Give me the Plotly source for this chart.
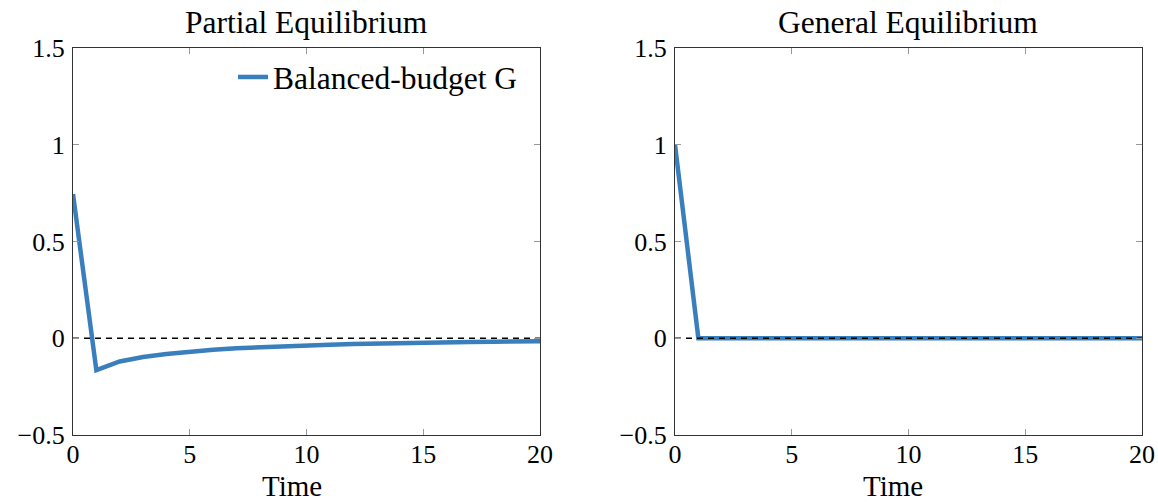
import plotly.graph_objects as go
from plotly.subplots import make_subplots

time = list(range(21))
pe_values = [0.745, -0.165, -0.12, -0.097, -0.081, -0.069, -0.059, -0.052, -0.046, -0.041,
             -0.037, -0.033, -0.030, -0.027, -0.025, -0.023, -0.021, -0.019, -0.018, -0.016, -0.015]
ge_values = [1.0] + [0.0] * 20
zero_line = [0.0] * 21
titles = ["Partial Equilibrium", "General Equilibrium"]
x_title = "Time"
series_name = "Balanced-budget G"
x_ticks = [0, 5, 10, 15, 20]
y_ticks = [-0.5, 0, 0.5, 1, 1.5]
y_tick_text = ["\u22120.5", "0", "0.5", "1", "1.5"]

FONT = "Liberation Serif"
BLUE = "#3a7fbd"
FS_TICK = 26
FS_TEXT = 31.5
FS_XT = 29

W, H = 1158, 502
ML, MR, MT, MB = 73, 16, 48, 67
PW = W - ML - MR
PH = H - MT - MB

fig = make_subplots(rows=1, cols=2)
dom1 = [0, (540 - ML) / PW]
dom2 = [(675 - ML) / PW, 1]

fig.add_trace(go.Scatter(x=time, y=pe_values, mode="lines", name=series_name,
                         line=dict(color=BLUE, width=4.5), showlegend=True), row=1, col=1)
fig.add_trace(go.Scatter(x=time, y=zero_line, mode="lines", line=dict(color="black", width=1.6, dash="6px,5px"),
                         showlegend=False, hoverinfo="skip"), row=1, col=1)
fig.add_trace(go.Scatter(x=time, y=ge_values, mode="lines", name=series_name,
                         line=dict(color=BLUE, width=4.5), showlegend=False), row=1, col=2)
fig.add_trace(go.Scatter(x=time, y=zero_line, mode="lines", line=dict(color="black", width=1.6, dash="6px,5px"),
                         showlegend=False, hoverinfo="skip"), row=1, col=2)

axis_common = dict(showline=True, linecolor="#333", linewidth=1.2, mirror="ticks",
                   ticks="inside", ticklen=6, tickcolor="#999", tickwidth=1,
                   showgrid=False, zeroline=False, automargin=False,
                   tickfont=dict(family=FONT, size=FS_TICK, color="black"))

for c, dom in ((1, dom1), (2, dom2)):
    fig.update_xaxes(range=[0, 20], tickvals=x_ticks, ticktext=[str(v) for v in x_ticks],
                     domain=dom, ticklabelstandoff=-4, **axis_common, row=1, col=c)
    fig.update_yaxes(range=[-0.5, 1.5], tickvals=y_ticks, ticktext=y_tick_text,
                     domain=[0, 1], ticklabelstandoff=2, **axis_common, row=1, col=c)

fig.update_layout(
    width=W, height=H,
    margin=dict(l=ML, r=MR, t=MT, b=MB),
    plot_bgcolor="white", paper_bgcolor="white",
    font=dict(family=FONT, size=FS_TEXT, color="black"),
    legend=dict(x=(523 - ML) / PW, y=(H - MB - 77) / PH, xanchor="right", yanchor="middle",
                bgcolor="rgba(0,0,0,0)", font=dict(family=FONT, size=FS_TEXT, color="black")),
    showlegend=True,
)

for dom, t in zip((dom1, dom2), titles):
    cx = (dom[0] + dom[1]) / 2
    fig.add_annotation(text=t, x=cx, y=1.0, xref="paper", yref="paper",
                       xanchor="center", yanchor="middle", yshift=26, showarrow=False,
                       font=dict(family=FONT, size=FS_TEXT, color="black"))
    fig.add_annotation(text=x_title, x=cx, y=0, xref="paper", yref="paper",
                       xanchor="center", yanchor="middle", xshift=-15, yshift=-51, showarrow=False,
                       font=dict(family=FONT, size=FS_XT, color="black"))

fig.write_html("out.html", config={"displayModeBar": False},
               post_script="document.body.style.margin='0';document.body.style.overflow='hidden';")
